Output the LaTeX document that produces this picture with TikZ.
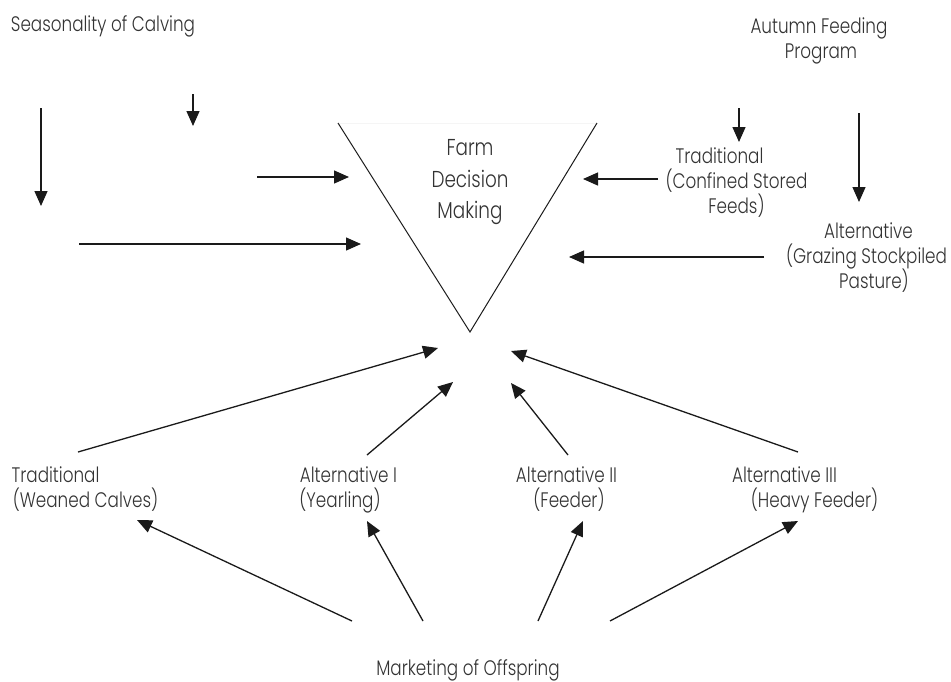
\documentclass[tikz,border=0pt]{standalone}
\usepackage{fontspec}
\setmainfont{Poppins}[UprightFont={* Light}, FakeStretch=0.8]
\usetikzlibrary{arrows.meta}
\definecolor{ink}{HTML}{1A1A1A}
\definecolor{txt}{HTML}{333333}
\tikzset{
  lbl/.style={anchor=base, inner sep=0pt, text=txt, font=\fontsize{21}{25}\selectfont},
  big/.style={anchor=base, inner sep=0pt, text=txt, font=\fontsize{23}{32}\selectfont},
  arr/.style={draw=ink, line width=1.3pt, -{Triangle[length=15pt,width=13pt]}},
  tri/.style={draw=ink, line width=1pt},
}
\begin{document}
\begin{tikzpicture}[x=1pt, y=-1pt]
\useasboundingbox (0,0) rectangle (951,681);
% texts
\node[lbl] (seas) at (103,31) {Seasonality of Calving};
\node[lbl] (aut1) at (819,33) {Autumn Feeding};
\node[lbl] (aut2) at (821,58) {Program};
\node[big] (fdm1) at (470,155) {Farm};
\node[big] (fdm2) at (470,187) {Decision};
\node[big] (fdm3) at (470,218) {Making};
\node[lbl] (tr1) at (719.5,163) {Traditional};
\node[lbl] (tr2) at (736.5,188) {(Confined Stored};
\node[lbl] (tr3) at (736.5,213) {Feeds)};
\node[lbl] (al1) at (868.5,238) {Alternative};
\node[lbl] (al2) at (866.5,263) {(Grazing Stockpiled};
\node[lbl] (al3) at (874,288) {Pasture)};
\node[lbl] (bt1) at (55.5,482) {Traditional};
\node[lbl] (bt2) at (85.5,507) {(Weaned Calves)};
\node[lbl] (ba1) at (348.5,482) {Alternative I};
\node[lbl] (ba2) at (340,507) {(Yearling)};
\node[lbl] (bb1) at (566.5,482) {Alternative II};
\node[lbl] (bb2) at (569,507) {(Feeder)};
\node[lbl] (bc1) at (784.5,482) {Alternative III};
\node[lbl] (bc2) at (814.5,507) {(Heavy Feeder)};
\node[lbl] (mkt) at (468,675) {Marketing of Offspring};
% triangle
\coordinate (tl) at (338,123);
\coordinate (tr) at (597,123);
\coordinate (tb) at (470,332);
\draw[black!4, line width=0.5pt] (tl) -- (tr);
\draw[tri] (tl) -- (tb) -- (tr);
% arrow end points
\coordinate (a1s) at (41,108);  \coordinate (a1e) at (41,206);
\coordinate (a2s) at (193,94);  \coordinate (a2e) at (193,126);
\coordinate (a3s) at (257,177); \coordinate (a3e) at (349,177);
\coordinate (a4s) at (79,244);  \coordinate (a4e) at (361,244);
\coordinate (a5s) at (739,108); \coordinate (a5e) at (739,142);
\coordinate (a6s) at (859,113); \coordinate (a6e) at (859,202);
\coordinate (a7s) at (658,179); \coordinate (a7e) at (583,179);
\coordinate (a8s) at (764,257); \coordinate (a8e) at (569,257);
\coordinate (a9s) at (78,452);  \coordinate (a9e) at (438,348);
\coordinate (a10s) at (367,455); \coordinate (a10e) at (453,382);
\coordinate (a11s) at (568,455); \coordinate (a11e) at (511,383);
\coordinate (a12s) at (798,452); \coordinate (a12e) at (511,351);
\coordinate (a13s) at (352,621); \coordinate (a13e) at (137,520);
\coordinate (a14s) at (423,621); \coordinate (a14e) at (367,521);
\coordinate (a15s) at (538,621); \coordinate (a15e) at (583,521);
\coordinate (a16s) at (610,621); \coordinate (a16e) at (798,521);
\foreach \i in {1,...,16} { \draw[arr] (a\i s) -- (a\i e); }
\end{tikzpicture}
\end{document}
